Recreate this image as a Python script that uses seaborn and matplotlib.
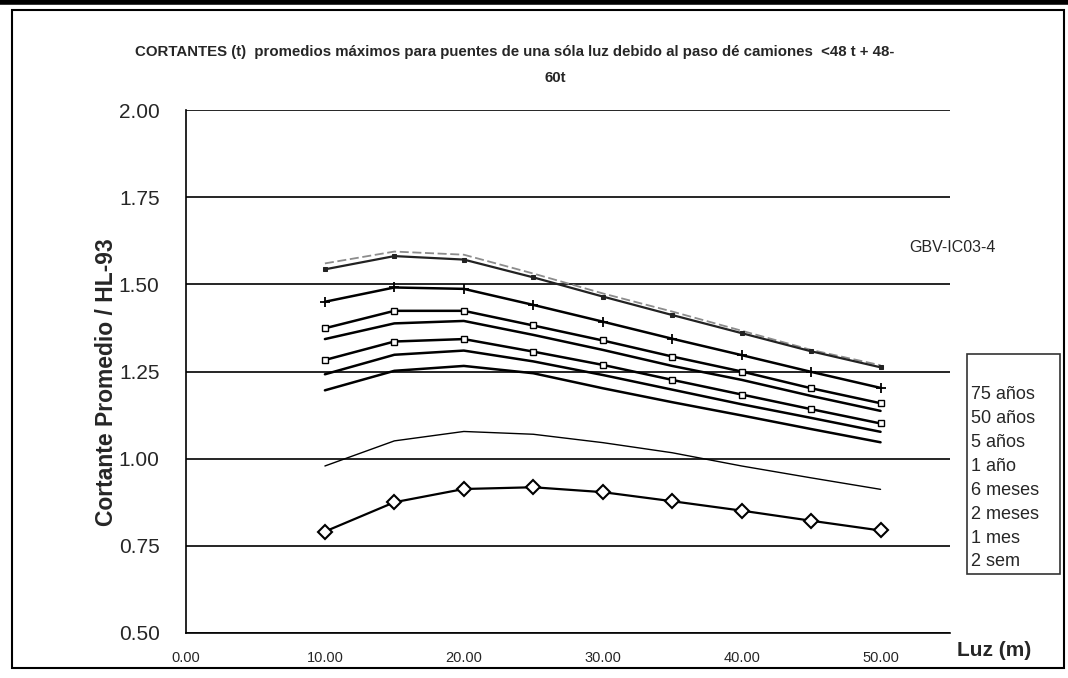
import matplotlib
matplotlib.use("Agg")
import matplotlib.pyplot as plt
from matplotlib.patches import Rectangle
from matplotlib.lines import Line2D
import seaborn as sns
import pandas as pd

# Span lengths (m)
luz = [10, 15, 20, 25, 30, 35, 40, 45, 50]

# Mean maximum shear ratio (Cortante / HL-93) for each return period
serie_sup_a = [1.560, 1.594, 1.585, 1.531, 1.474, 1.422, 1.367, 1.312, 1.268]
serie_sup_b = [1.543, 1.581, 1.571, 1.520, 1.465, 1.412, 1.360, 1.308, 1.262]
anos_75 = [1.450, 1.491, 1.487, 1.441, 1.393, 1.344, 1.297, 1.249, 1.203]
anos_50 = [1.374, 1.424, 1.424, 1.382, 1.339, 1.293, 1.250, 1.202, 1.159]
anos_5 = [1.343, 1.388, 1.395, 1.355, 1.312, 1.266, 1.226, 1.180, 1.137]
ano_1 = [1.283, 1.336, 1.343, 1.307, 1.269, 1.226, 1.184, 1.142, 1.101]
meses_6 = [1.242, 1.298, 1.310, 1.279, 1.240, 1.198, 1.156, 1.117, 1.077]
meses_2 = [1.196, 1.252, 1.266, 1.245, 1.202, 1.162, 1.124, 1.085, 1.047]
mes_1 = [0.979, 1.051, 1.078, 1.070, 1.046, 1.017, 0.979, 0.945, 0.912]
sem_2 = [0.791, 0.875, 0.913, 0.918, 0.904, 0.878, 0.851, 0.822, 0.794]

etiquetas = ["75 años", "50 años", "5 años", "1 año",
             "6 meses", "2 meses", "1 mes", "2 sem"]

titulo_1 = ("CORTANTES (t)  promedios máximos para puentes de una sóla luz "
            "debido al paso dé camiones  <48 t + 48-")
titulo_2 = "60t"
ylabel = "Cortante Promedio / HL-93"
xlabel = "Luz (m)"
nota = "GBV-IC03-4"
xticks = [0, 10, 20, 30, 40, 50]
yticks = [0.50, 0.75, 1.00, 1.25, 1.50, 1.75, 2.00]

sns.set_theme(style="white")
plt.rcParams["font.family"] = ["Liberation Sans", "DejaVu Sans"]
narrow = ["Liberation Sans Narrow", "Liberation Sans", "DejaVu Sans"]

fig = plt.figure(figsize=(10.68, 6.78), dpi=100)
W, H = 1068, 678
ax = fig.add_axes([186 / W, 1 - 633 / H, (950 - 186) / W, (633 - 110) / H])

# (values, label, style kwargs)
series = [
    (serie_sup_a, "_sup_a", dict(color="#8c8c8c", lw=1.3, linestyle=(0, (5, 2)))),
    (serie_sup_b, "_sup_b", dict(color="#222222", lw=1.6, marker="s", ms=2.5,
                                 mec="#222222", mfc="#222222")),
    (anos_75, etiquetas[0], dict(color="black", lw=1.8, marker="+", ms=7,
                                 mec="black", mew=1.3)),
    (anos_50, etiquetas[1], dict(color="black", lw=1.8, marker="s", ms=4.5,
                                 mfc="white", mec="black", mew=1)),
    (anos_5, etiquetas[2], dict(color="black", lw=1.8)),
    (ano_1, etiquetas[3], dict(color="black", lw=1.8, marker="s", ms=4.5,
                               mfc="white", mec="black", mew=1)),
    (meses_6, etiquetas[4], dict(color="black", lw=1.8)),
    (meses_2, etiquetas[5], dict(color="black", lw=1.8)),
    (mes_1, etiquetas[6], dict(color="black", lw=1.0)),
    (sem_2, etiquetas[7], dict(color="black", lw=1.6, marker="D", ms=7.5,
                               mfc="white", mec="black", mew=1.5)),
]

for vals, lab, kw in series:
    df = pd.DataFrame({"luz": luz, "v": vals})
    sns.lineplot(data=df, x="luz", y="v", ax=ax, label=lab, **kw)

ax.set_xlim(0, 55)
ax.set_ylim(0.5, 2.0)
ax.set_xticks(xticks)
ax.set_xticklabels([f"{t:.2f}" for t in xticks], family=narrow, fontsize=10.5)
ax.set_yticks(yticks)
ax.set_yticklabels([f"{t:.2f}" for t in yticks], fontsize=15)
ax.tick_params(axis="x", direction="out", length=6, width=1, color="black", pad=7)
ax.tick_params(axis="y", direction="inout", length=10, width=1, color="black", pad=14)
ax.set_xlabel("")
ax.set_ylabel(ylabel, fontsize=16.5, fontweight="bold")
ax.yaxis.set_label_coords((118 - 186) / (950 - 186), (633 - 382) / (633 - 110))

for y in yticks:
    ax.axhline(y, color="black", lw=1.2, zorder=0)

for s in ["top", "right"]:
    ax.spines[s].set_visible(False)
for s in ["left", "bottom"]:
    ax.spines[s].set_color("black")
    ax.spines[s].set_linewidth(1.2)

fig.text(994 / W, 1 - 651 / H, xlabel, fontsize=15, fontweight="bold",
         ha="center", va="center")
fig.text(515 / W, 1 - 52 / H, titulo_1, family=narrow, fontsize=10.8,
         fontweight="bold", ha="center", va="center")
fig.text(555 / W, 1 - 78 / H, titulo_2, family=narrow, fontsize=10.8,
         fontweight="bold", ha="center", va="center")
fig.text(952 / W, 1 - 247 / H, nota, fontsize=11.5, ha="center", va="center")

leg = ax.legend(loc="upper left",
                bbox_to_anchor=(967 / W, 1 - 571 / H, 93 / W, 217 / H),
                bbox_transform=fig.transFigure, mode="expand",
                frameon=True, fancybox=False,
                edgecolor="black", fontsize=13, handlelength=0,
                handletextpad=0, labelspacing=0.38, borderpad=0.2,
                borderaxespad=0, title=" ", title_fontsize=17)
leg.get_frame().set_linewidth(1.2)
for h in leg.legend_handles:
    h.set_visible(False)

# Outer frame around the whole chart
fig.add_artist(Rectangle((12 / W, 1 - 668 / H), (1064 - 12) / W, (668 - 10) / H,
                         transform=fig.transFigure, fill=False,
                         edgecolor="black", lw=1.5))
fig.add_artist(Line2D([0, 1], [1 - 2 / H, 1 - 2 / H], transform=fig.transFigure,
                      color="black", lw=4))

fig.savefig("out.png", dpi=100, facecolor="white")
